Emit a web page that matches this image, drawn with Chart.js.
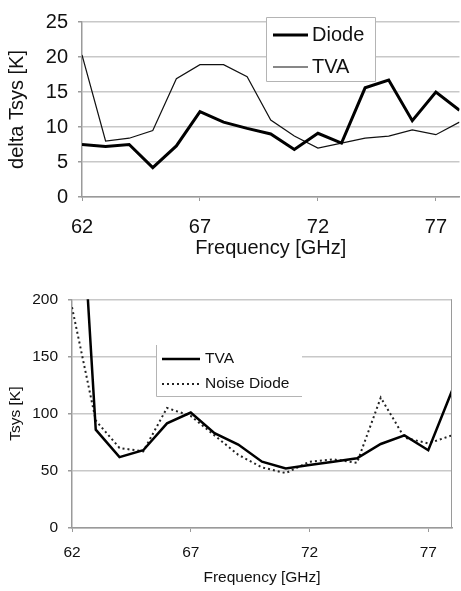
<!DOCTYPE html>
<html>
<head>
<meta charset="utf-8">
<script src="https://cdn.jsdelivr.net/npm/chart.js@4/dist/chart.umd.min.js"></script>
<style>
  body { margin: 0; background: #fff; }
  .box { position: absolute; left: 0; }
</style>
</head>
<body>
<div class="box" style="top:0"><canvas id="deltaChart" width="461" height="280"></canvas></div>
<div class="box" style="top:280px"><canvas id="tsysChart" width="461" height="311"></canvas></div>
<script>
// frequency points (GHz)
const freqs = [62, 63, 64, 65, 66, 67, 68, 69, 70, 71, 72, 73, 74, 75, 76, 77, 78];
const freqTicks = [62, 67, 72, 77];

// top panel: delta Tsys [K]
const diodeDelta = [7.5, 7.2, 7.5, 4.2, 7.3, 12.2, 10.7, 9.8, 9.0, 6.8, 9.1, 7.7, 15.6, 16.7, 10.9, 15.0, 12.4];
const tvaDelta = [20.3, 8.0, 8.4, 9.5, 16.9, 18.9, 18.9, 17.2, 11.0, 8.7, 7.0, 7.7, 8.4, 8.7, 9.6, 8.9, 10.7];
const deltaTicks = [0, 5, 10, 15, 20, 25];

// bottom panel: Tsys [K]
const tvaTsys = [430, 86, 62, 68, 91.5, 101, 83, 73, 58, 52, 55, 58, 61, 73.5, 81, 68, 120];
const noiseTsys = [193, 94, 70, 67, 105, 98, 81, 64, 53, 48, 58, 60, 57, 114, 79, 74, 81];
const tsysTicks = [0, 50, 100, 150, 200];

const FONT = "'Liberation Sans', Arial, sans-serif";
const GRID = '#c8c8c8';
const AXIS = '#9a9a9a';

function toPts(ys) {
  return freqs.map((f, i) => ({ x: f, y: ys[i] }));
}

// legend drawn in a fixed box, like the spreadsheet original
const boxLegend = {
  id: 'boxLegend',
  afterDraw(chart, args, o) {
    const ctx = chart.ctx;
    ctx.save();
    ctx.fillStyle = '#fff';
    ctx.fillRect(o.x1, o.y1, o.x2 - o.x1, o.y2 - o.y1);
    ctx.strokeStyle = '#b4b4b4';
    ctx.lineWidth = 1;
    ctx.beginPath();
    if (o.full) {
      ctx.rect(o.x1 + 0.5, o.y1 + 0.5, o.x2 - o.x1, o.y2 - o.y1);
    } else {
      ctx.moveTo(o.x1 + 0.5, o.y1);
      ctx.lineTo(o.x1 + 0.5, o.y2 + 0.5);
      ctx.lineTo(o.x2, o.y2 + 0.5);
    }
    ctx.stroke();
    ctx.font = o.size + 'px ' + FONT;
    ctx.textBaseline = 'middle';
    chart.data.datasets.forEach((ds, i) => {
      const y = o.rows[i];
      ctx.strokeStyle = ds.borderColor;
      ctx.lineWidth = ds.borderWidth;
      ctx.setLineDash(ds.borderDash || []);
      ctx.beginPath();
      ctx.moveTo(o.lineX1, y);
      ctx.lineTo(o.lineX2, y);
      ctx.stroke();
      ctx.setLineDash([]);
      ctx.fillStyle = '#111';
      ctx.fillText(ds.label, o.textX, y);
    });
    if (o.rightBorder) {
      const a = chart.chartArea;
      ctx.strokeStyle = AXIS;
      ctx.lineWidth = 1;
      ctx.beginPath();
      ctx.moveTo(a.right - 0.5, a.top);
      ctx.lineTo(a.right - 0.5, a.bottom);
      ctx.stroke();
    }
    ctx.restore();
  }
};

function makeChart(id, cfg) {
  return new Chart(document.getElementById(id), {
    type: 'line',
    data: { datasets: cfg.datasets },
    options: {
      responsive: false,
      animation: false,
      layout: { padding: cfg.padding },
      plugins: { legend: { display: false }, tooltip: { enabled: false }, boxLegend: cfg.legend },
      elements: { point: { radius: 0 }, line: { tension: 0 } },
      scales: {
        x: {
          type: 'linear', min: 62, max: 78,
          afterBuildTicks: s => { s.ticks = freqTicks.map(v => ({ value: v })); },
          afterFit: s => { s.height = cfg.xHeight; },
          grid: { drawOnChartArea: false, color: AXIS, tickLength: 4 },
          border: { color: AXIS, width: 1.5 },
          ticks: { color: '#111', padding: cfg.xTickPad, maxRotation: 0, font: { family: FONT, size: cfg.size } },
          title: { display: true, text: 'Frequency [GHz]', color: '#111', padding: { top: 0, bottom: cfg.xTitlePad }, font: { family: FONT, size: cfg.size } }
        },
        y: {
          min: cfg.yTicks[0], max: cfg.yTicks[cfg.yTicks.length - 1],
          afterBuildTicks: s => { s.ticks = cfg.yTicks.map(v => ({ value: v })); },
          afterFit: s => { s.width = cfg.yWidth; },
          grid: { color: GRID, lineWidth: 1.5, tickColor: AXIS, tickLength: 4 },
          border: { color: AXIS, width: 1.5 },
          ticks: { color: '#111', padding: cfg.yTickPad, font: { family: FONT, size: cfg.size } },
          title: { display: true, text: cfg.yTitle, color: '#111', padding: { top: cfg.yTitlePad, bottom: 0 }, font: { family: FONT, size: cfg.size } }
        }
      }
    },
    plugins: [boxLegend]
  });
}

makeChart('deltaChart', {
  datasets: [
    { label: 'Diode', data: toPts(diodeDelta), borderColor: '#000', borderWidth: 3 },
    { label: 'TVA', data: toPts(tvaDelta), borderColor: '#111', borderWidth: 1.2 }
  ],
  padding: { top: 14, left: 0, right: 0, bottom: 0 },
  size: 20, yTicks: deltaTicks, yTitle: 'delta Tsys [K]',
  xHeight: 83, yWidth: 82, xTickPad: 14, xTitlePad: 20, yTickPad: 10, yTitlePad: 5,
  legend: { x1: 266, y1: 17, x2: 375, y2: 81, full: true, size: 20,
            lineX1: 273, lineX2: 308, textX: 312, rows: [35, 67] }
});

makeChart('tsysChart', {
  datasets: [
    { label: 'TVA', data: toPts(tvaTsys), borderColor: '#000', borderWidth: 2.5 },
    { label: 'Noise Diode', data: toPts(noiseTsys), borderColor: '#222', borderWidth: 2, borderDash: [2, 3] }
  ],
  padding: { top: 17, left: 0, right: 9, bottom: 0 },
  size: 15.5, yTicks: tsysTicks, yTitle: 'Tsys [K]',
  xHeight: 63, yWidth: 72, xTickPad: 11, xTitlePad: 4, yTickPad: 10, yTitlePad: 6,
  legend: { x1: 156, y1: 65, x2: 302, y2: 116, full: false, rightBorder: true, size: 15.5,
            lineX1: 162, lineX2: 200, textX: 205, rows: [79, 104] }
});
</script>
</body>
</html>
